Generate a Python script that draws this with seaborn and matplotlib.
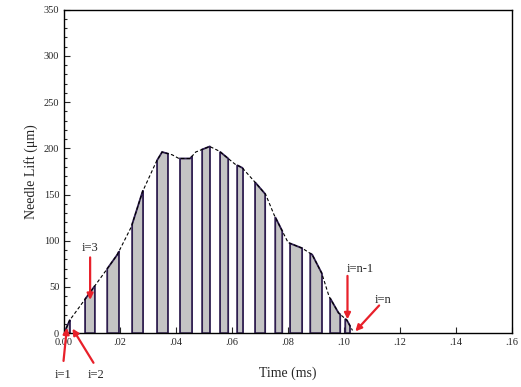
import numpy as np
import pandas as pd
import matplotlib
matplotlib.use("Agg")
import matplotlib.pyplot as plt
import seaborn as sns
from matplotlib.ticker import MultipleLocator, FixedLocator, FixedFormatter

# ---- data ----
time_ms = [0.0, 0.002, 0.009, 0.015, 0.019, 0.024, 0.028, 0.033, 0.035, 0.0386,
           0.041, 0.045, 0.047, 0.052, 0.0554, 0.061, 0.0636, 0.068, 0.072, 0.075,
           0.080, 0.085, 0.0886, 0.092, 0.0946, 0.098, 0.101, 0.103]
lift_um = [0, 14, 43, 68, 85, 115, 153, 186, 196, 193,
           189, 189, 196, 202, 197, 183, 179, 164, 150, 128,
           98, 92, 85, 65, 40, 22, 14, 3]

strip_start = [0.0004, 0.0075, 0.0154, 0.0243, 0.0332, 0.0414, 0.0493, 0.0557,
               0.0618, 0.0682, 0.0754, 0.0807, 0.0879, 0.0950, 0.1004]
strip_end = [0.0021, 0.0110, 0.0196, 0.0282, 0.0371, 0.0457, 0.0521, 0.0586,
             0.0639, 0.0718, 0.0779, 0.0850, 0.0921, 0.0986, 0.1021]

x_ticks = [0.0, 0.02, 0.04, 0.06, 0.08, 0.10, 0.12, 0.14, 0.16]
x_tick_labels = ["0.00", ".02", ".04", ".06", ".08", ".10", ".12", ".14", ".16"]
y_ticks = [0, 50, 100, 150, 200, 250, 300, 350]

labels = ["i=1", "i=2", "i=3", "i=n-1", "i=n"]
label_xy = [(-0.0004, -45), (0.0115, -45), (0.0093, 92), (0.1057, 70), (0.1139, 36)]
arrow_tail = [(-0.0002, -30), (0.0105, -32), (0.0093, 82), (0.1012, 62), (0.1125, 30)]
arrow_head = [(0.0010, 6), (0.0030, 5), (0.0093, 36), (0.1012, 15), (0.1040, 2)]

df = pd.DataFrame({"Time (ms)": time_ms, "Needle Lift (μm)": lift_um})

sns.set_style("ticks")
plt.rcParams["font.family"] = ["Liberation Serif", "DejaVu Serif"]

fig = plt.figure(figsize=(5.21, 3.87), dpi=100)
ax = fig.add_axes([0.123, 0.139, 0.860, 0.836])

# gray trapezoid-like strips following the curve
t_arr = np.array(time_ms)
y_arr = np.array(lift_um, dtype=float)
for s, e in zip(strip_start, strip_end):
    inner = t_arr[(t_arr > s) & (t_arr < e)]
    ts = np.concatenate([[s], inner, [e]])
    ys = np.interp(ts, t_arr, y_arr)
    px = np.concatenate([[s], ts, [e]])
    py = np.concatenate([[0], ys, [0]])
    ax.fill(px, py, facecolor="#c4c4c4", edgecolor="#2e1d4f", linewidth=1.3, zorder=2)

sns.lineplot(data=df, x="Time (ms)", y="Needle Lift (μm)", ax=ax, color="black",
             linewidth=0.8, linestyle=(0, (3, 2)), zorder=3)

for lab, lxy, tail, head in zip(labels, label_xy, arrow_tail, arrow_head):
    ax.annotate("", xy=head, xytext=tail, annotation_clip=False,
                arrowprops=dict(arrowstyle="-|>", color="#e8202a", lw=1.6,
                                mutation_scale=9, shrinkA=0, shrinkB=0), zorder=5)
    ax.text(lxy[0], lxy[1], lab, ha="center", va="center", fontsize=9,
            clip_on=False, zorder=6)

ax.set_xlim(0, 0.16)
ax.set_ylim(0, 350)
ax.xaxis.set_major_locator(FixedLocator(x_ticks))
ax.xaxis.set_major_formatter(FixedFormatter(x_tick_labels))
ax.yaxis.set_major_locator(FixedLocator(y_ticks))
ax.yaxis.set_minor_locator(MultipleLocator(10))
ax.tick_params(axis="both", which="both", direction="in", top=False, right=False,
               labelsize=7.5, width=0.8)
ax.tick_params(axis="both", which="major", length=4)
ax.tick_params(axis="y", which="minor", length=2)
for sp in ax.spines.values():
    sp.set_visible(True)
    sp.set_linewidth(1.0)
    sp.set_color("black")
ax.set_xlabel("Time (ms)", fontsize=10, labelpad=14)
ax.set_ylabel("Needle Lift (μm)", fontsize=10, labelpad=4)

fig.savefig("out.png", dpi=100)
